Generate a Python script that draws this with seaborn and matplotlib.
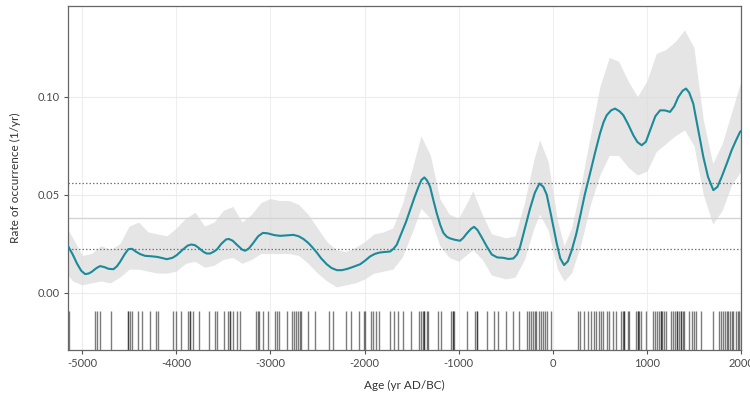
import numpy as np
import pandas as pd
import matplotlib
matplotlib.use("Agg")
import matplotlib.pyplot as plt
import seaborn as sns

# Smoothed rate of occurrence (events per year)
years = [-5145, -5100, -5056, -5010, -4968, -4930, -4897, -4850, -4809, -4760,
         -4720, -4667, -4630, -4596, -4550, -4510, -4470, -4430, -4384, -4331,
         -4270, -4207, -4150, -4100, -4040, -3994, -3930, -3880, -3840, -3800,
         -3760, -3710, -3676, -3640, -3600, -3569, -3520, -3470, -3440, -3400,
         -3357, -3300, -3269, -3230, -3180, -3130, -3080, -3030, -2960, -2897,
         -2820, -2755, -2700, -2649, -2600, -2560, -2507, -2460, -2401, -2350,
         -2294, -2240, -2180, -2120, -2047, -1990, -1941, -1890, -1840, -1780,
         -1728, -1690, -1657, -1610, -1560, -1516, -1470, -1427, -1395, -1364,
         -1335, -1303, -1270, -1232, -1195, -1162, -1125, -1091, -1040, -985,
         -950, -914, -870, -836, -800, -754, -700, -648, -590, -525,
         -470, -418, -380, -347, -300, -241, -190, -142, -100, -64,
         -20, 42, 80, 120, 160, 202, 250, 290, 340, 396,
         450, 502, 540, 573, 620, 662, 710, 750, 800, 856,
         900, 945, 990, 1034, 1090, 1140, 1190, 1246, 1290, 1334,
         1380, 1416, 1450, 1493, 1550, 1600, 1650, 1706, 1750, 1795,
         1850, 1901, 1950, 1990, 2000]
rate = [0.0234, 0.0195, 0.0150, 0.0112, 0.0095, 0.0098, 0.0107, 0.0125, 0.0136, 0.0130,
        0.0122, 0.0120, 0.0135, 0.0158, 0.0195, 0.0222, 0.0224, 0.0210, 0.0197, 0.0188,
        0.0186, 0.0183, 0.0177, 0.0171, 0.0178, 0.0192, 0.0220, 0.0240, 0.0246, 0.0242,
        0.0228, 0.0208, 0.0200, 0.0200, 0.0210, 0.0220, 0.0250, 0.0272, 0.0274, 0.0265,
        0.0245, 0.0220, 0.0214, 0.0225, 0.0255, 0.0288, 0.0305, 0.0303, 0.0294, 0.0290,
        0.0293, 0.0295, 0.0288, 0.0274, 0.0255, 0.0235, 0.0205, 0.0175, 0.0145, 0.0126,
        0.0115, 0.0115, 0.0122, 0.0132, 0.0145, 0.0165, 0.0185, 0.0198, 0.0205, 0.0208,
        0.0210, 0.0225, 0.0245, 0.0300, 0.0360, 0.0421, 0.0485, 0.0540, 0.0575, 0.0588,
        0.0572, 0.0540, 0.0475, 0.0404, 0.0345, 0.0305, 0.0285, 0.0277, 0.0270, 0.0265,
        0.0280, 0.0302, 0.0325, 0.0336, 0.0320, 0.0282, 0.0235, 0.0195, 0.0180, 0.0178,
        0.0172, 0.0175, 0.0195, 0.0234, 0.0320, 0.0430, 0.0510, 0.0557, 0.0540, 0.0500,
        0.0400, 0.0252, 0.0175, 0.0141, 0.0160, 0.0217, 0.0300, 0.0387, 0.0500, 0.0608,
        0.0715, 0.0812, 0.0870, 0.0905, 0.0930, 0.0939, 0.0925, 0.0905, 0.0860, 0.0803,
        0.0768, 0.0752, 0.0770, 0.0828, 0.0900, 0.0930, 0.0930, 0.0922, 0.0950, 0.0998,
        0.1030, 0.1041, 0.1020, 0.0964, 0.0820, 0.0692, 0.0590, 0.0523, 0.0540, 0.0591,
        0.0660, 0.0727, 0.0780, 0.0820, 0.0825]

# Confidence band around the rate
band_years = [-5150, -5100, -5000, -4900, -4800, -4700, -4600, -4500, -4400, -4300,
              -4200, -4100, -4000, -3900, -3800, -3700, -3600, -3500, -3400, -3300,
              -3200, -3100, -3000, -2900, -2800, -2700, -2600, -2500, -2400, -2300,
              -2200, -2100, -2000, -1900, -1800, -1700, -1600, -1500, -1400, -1300,
              -1200, -1100, -1000, -900, -850, -750, -650, -500, -400, -300,
              -200, -140, -50, 50, 120, 200, 300, 400, 500, 600,
              700, 800, 900, 1000, 1100, 1200, 1300, 1400, 1500, 1600,
              1700, 1800, 1900, 2000]
band_lo = [0.009, 0.006, 0.004, 0.005, 0.006, 0.005, 0.008, 0.012, 0.012, 0.011,
           0.010, 0.010, 0.011, 0.015, 0.016, 0.013, 0.014, 0.017, 0.018, 0.015,
           0.017, 0.020, 0.020, 0.020, 0.020, 0.019, 0.015, 0.010, 0.006, 0.003,
           0.004, 0.005, 0.007, 0.010, 0.011, 0.012, 0.018, 0.030, 0.043, 0.038,
           0.024, 0.018, 0.016, 0.020, 0.022, 0.017, 0.009, 0.007, 0.008, 0.017,
           0.033, 0.040, 0.032, 0.012, 0.006, 0.010, 0.025, 0.045, 0.060, 0.070,
           0.070, 0.064, 0.060, 0.062, 0.072, 0.076, 0.080, 0.083, 0.075, 0.050,
           0.035, 0.042, 0.055, 0.062]
band_hi = [0.032, 0.028, 0.019, 0.020, 0.024, 0.022, 0.025, 0.034, 0.036, 0.031,
           0.030, 0.029, 0.033, 0.038, 0.041, 0.034, 0.036, 0.042, 0.044, 0.036,
           0.040, 0.046, 0.048, 0.047, 0.047, 0.045, 0.040, 0.033, 0.026, 0.022,
           0.021, 0.023, 0.026, 0.030, 0.031, 0.033, 0.045, 0.062, 0.080, 0.070,
           0.048, 0.040, 0.038, 0.047, 0.052, 0.040, 0.030, 0.028, 0.029, 0.046,
           0.068, 0.078, 0.067, 0.037, 0.024, 0.033, 0.055, 0.080, 0.105, 0.120,
           0.118, 0.108, 0.100, 0.108, 0.122, 0.124, 0.128, 0.134, 0.125, 0.088,
           0.066, 0.076, 0.092, 0.108]

# Reference levels: long-term mean and dotted bounds
mean_rate = 0.0380
lower_bound = 0.0222
upper_bound = 0.0557

# Dated events shown as a rug
event_years = [-5138, -4862, -4841, -4809, -4692, -4511, -4511, -4490, -4469, -4408,
               -4363, -4283, -4214, -4193, -4030, -4007, -3948, -3877, -3853, -3853,
               -3821, -3757, -3651, -3593, -3566, -3492, -3449, -3428, -3428, -3396,
               -3354, -3325, -3152, -3134, -3117, -3081, -3027, -2947, -2929, -2911,
               -2826, -2769, -2748, -2727, -2706, -2690, -2674, -2602, -2525, -2373,
               -2337, -2196, -2143, -2054, -2008, -1991, -1930, -1912, -1877, -1842,
               -1728, -1683, -1647, -1593, -1505, -1417, -1399, -1381, -1364, -1364,
               -1339, -1322, -1215, -1187, -1080, -1062, -1062, -1045, -910, -825,
               -807, -807, -698, -620, -584, -496, -425, -355, -276, -252,
               -231, -209, -188, -177, -149, -124, -103, -82, -64, -18,
               265, 290, 336, 372, 407, 442, 460, 495, 513, 531,
               577, 601, 637, 672, 725, 743, 761, 761, 797, 814,
               885, 903, 903, 920, 938, 991, 1069, 1087, 1108, 1129,
               1145, 1145, 1161, 1182, 1204, 1257, 1278, 1299, 1320, 1320,
               1342, 1363, 1363, 1384, 1398, 1451, 1480, 1501, 1522, 1575,
               1700, 1770, 1788, 1809, 1830, 1848, 1865, 1883, 1901, 1912,
               1947, 1968, 1984, 2000]

x_ticks = [-5000, -4000, -3000, -2000, -1000, 0, 1000, 2000]
y_ticks = [0.00, 0.05, 0.10]

sns.set_theme(style="white")
plt.rcParams["font.family"] = ["Lato", "DejaVu Sans"]

curve = pd.DataFrame({"year": years, "rate": rate})
band = pd.DataFrame({"year": band_years, "lo": band_lo, "hi": band_hi})

fig = plt.figure(figsize=(7.5, 3.96), dpi=100)
ax = fig.add_axes([0.0907, 0.1162, 0.8973, 0.8686])

# faint grid
for xv in x_ticks:
    ax.axvline(xv, color="#efefef", lw=0.8, zorder=0)
for yv in y_ticks:
    ax.axhline(yv, color="#ececec", lw=0.8, zorder=0)

ax.fill_between(band["year"], band["lo"], band["hi"], color="#dadada",
                alpha=0.7, lw=0, zorder=1)

ax.axhline(mean_rate, color="#d4d4d4", lw=1.0, zorder=2)
ax.axhline(upper_bound, color="#777777", lw=0.9, ls=(0, (1.2, 1.6)), zorder=2)
ax.axhline(lower_bound, color="#777777", lw=0.9, ls=(0, (1.2, 1.6)), zorder=2)

sns.lineplot(data=curve, x="year", y="rate", color="#1b8a99", lw=1.5,
             ax=ax, zorder=3)

sns.rugplot(x=event_years, height=0.113, color="#111111", alpha=0.55,
            lw=0.8, ax=ax, zorder=2)

ax.set_xlim(-5150, 2000)
ax.set_ylim(-0.0292, 0.1462)
ax.set_xticks(x_ticks)
ax.set_xticklabels([str(v) for v in x_ticks])
ax.set_yticks(y_ticks)
ax.set_yticklabels(["0.00", "0.05", "0.10"])
ax.tick_params(axis="both", which="major", labelsize=8, labelcolor="#4a4a4a",
               color="#555555", length=3, width=0.8, direction="out",
               bottom=True, left=True, pad=3)

for side, sp in ax.spines.items():
    sp.set_color("#666666")
    sp.set_linewidth(0.9)

ax.set_xlabel("Age (yr AD/BC)", fontsize=8.5, color="#333333", labelpad=8)
ax.set_ylabel("Rate of occurrence (1/yr)", fontsize=8.5, color="#333333",
              labelpad=12)

fig.savefig("out.png", dpi=100)
